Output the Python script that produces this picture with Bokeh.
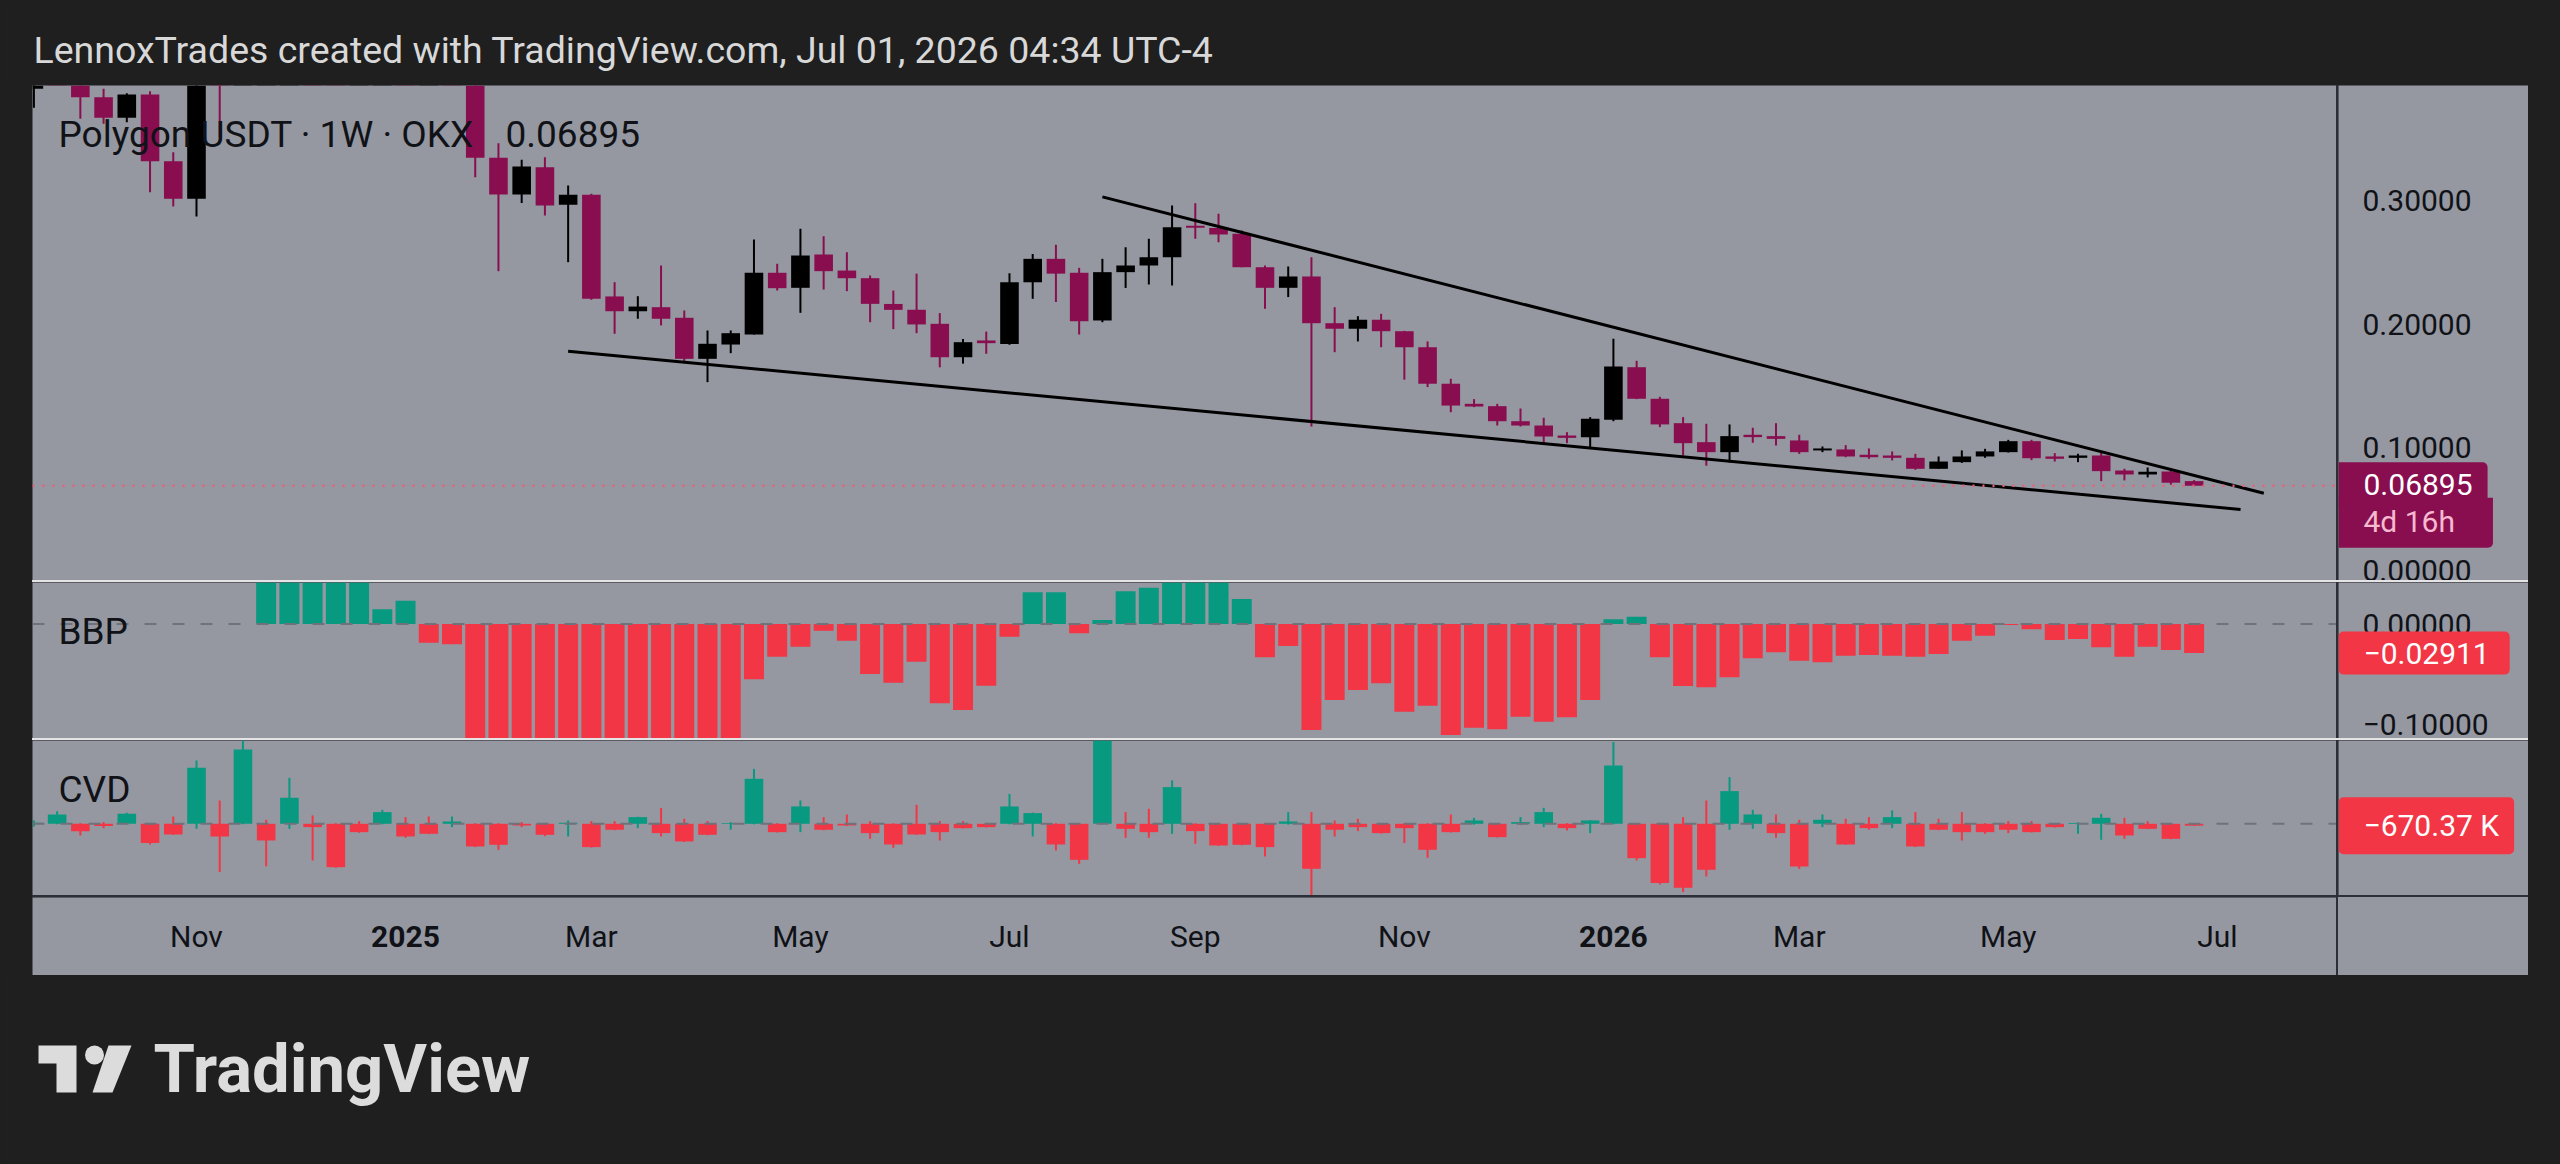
from bokeh.plotting import figure
from bokeh.layouts import column, row
from bokeh.models import (ColumnDataSource, Range1d, Label, Span, Spacer,
                          GlobalInlineStyleSheet)
from bokeh.core.properties import value
from bokeh.embed import file_html
from bokeh.resources import INLINE

# ---------------------------------------------------------------- data
# weekly bars, index 0 = week of 6 Jan 2025
weeks = list(range(-16, 78))

open_ = [
    0.391, 0.420, 0.416, 0.3841, 0.3674, 0.3863, 0.3322, 0.3017, 0.428, 0.410,      # -16..-7
    0.455, 0.600, 0.620, 0.560, 0.470, 0.480, 0.520, 0.450, 0.460, 0.430,          # -6..3
    0.335, 0.3052, 0.3273, 0.2968, 0.3049, 0.2225, 0.2105, 0.2138, 0.2052, 0.1719,  # 4..13
    0.1835, 0.1916, 0.2417, 0.2295, 0.2565, 0.2435, 0.2373, 0.2164, 0.2117, 0.2003, # 14..23
    0.1732, 0.1868, 0.1840, 0.2340, 0.2530, 0.2417, 0.2030, 0.2422, 0.2476, 0.2543, # 24..33
    0.2798, 0.2780, 0.2733, 0.2462, 0.2295, 0.2387, 0.2008, 0.1963, 0.2036, 0.1943, # 34..43
    0.1813, 0.1517, 0.1354, 0.1335, 0.1213, 0.1178, 0.1097, 0.1083, 0.1225, 0.1651, # 44..53
    0.1395, 0.1197, 0.1043, 0.0962, 0.1103, 0.1092, 0.1057, 0.0976, 0.0984, 0.0941, # 54..63
    0.0935, 0.0916, 0.0827, 0.0881, 0.0927, 0.0962, 0.1051, 0.0927, 0.0916, 0.0935, # 64..73
    0.0813, 0.0781, 0.0805, 0.0727,                                                 # 74..77
]
high = [
    0.432, 0.455, 0.425, 0.391, 0.3874, 0.389, 0.3395, 0.445, 0.475, 0.470,
    0.620, 0.730, 0.650, 0.600, 0.520, 0.560, 0.550, 0.500, 0.490, 0.440,
    0.3468, 0.3333, 0.3354, 0.3125, 0.3057, 0.2341, 0.2227, 0.2476, 0.2111, 0.1949,
    0.1949, 0.2687, 0.2490, 0.2774, 0.2714, 0.2584, 0.2395, 0.2273, 0.2410, 0.2090,
    0.1880, 0.1940, 0.2413, 0.2570, 0.2644, 0.2457, 0.2530, 0.2625, 0.2693, 0.2963,
    0.2980, 0.2895, 0.2760, 0.2476, 0.2468, 0.2543, 0.2138, 0.2065, 0.2084, 0.1946,
    0.1860, 0.1557, 0.1392, 0.1354, 0.1316, 0.1241, 0.1124, 0.1246, 0.1882, 0.1703,
    0.1411, 0.1246, 0.1192, 0.1187, 0.1160, 0.1197, 0.1103, 0.1008, 0.1019, 0.0992,
    0.0968, 0.0948, 0.0927, 0.0976, 0.0989, 0.1062, 0.1062, 0.0954, 0.0949, 0.0968,
    0.0827, 0.0838, 0.0827, 0.0735,
]
low = [
    0.3755, 0.400, 0.3666, 0.3625, 0.3638, 0.3071, 0.2955, 0.2873, 0.3517, 0.398,
    0.440, 0.560, 0.510, 0.430, 0.440, 0.460, 0.430, 0.420, 0.410, 0.3192,
    0.2430, 0.2983, 0.2882, 0.2503, 0.2198, 0.1922, 0.2044, 0.1990, 0.1692, 0.1530,
    0.1765, 0.1916, 0.2273, 0.2092, 0.2281, 0.2268, 0.2016, 0.1960, 0.1927, 0.1650,
    0.1680, 0.1760, 0.1833, 0.2206, 0.2180, 0.1916, 0.2016, 0.2294, 0.2322, 0.2314,
    0.2693, 0.2665, 0.2462, 0.2125, 0.2220, 0.1170, 0.1773, 0.1860, 0.1813, 0.1550,
    0.1490, 0.1286, 0.1327, 0.1178, 0.1170, 0.1032, 0.1035, 0.1002, 0.1213, 0.1392,
    0.1165, 0.0935, 0.0852, 0.0880, 0.1038, 0.1016, 0.0948, 0.0962, 0.0921, 0.0908,
    0.0895, 0.0819, 0.0827, 0.0875, 0.0916, 0.0959, 0.0897, 0.0886, 0.0881, 0.0727,
    0.0733, 0.0757, 0.0698, 0.0686,
]
close = [
    0.420, 0.416, 0.3841, 0.3674, 0.3863, 0.3322, 0.3017, 0.428, 0.410, 0.455,
    0.600, 0.620, 0.560, 0.470, 0.480, 0.520, 0.450, 0.460, 0.430, 0.335,
    0.3052, 0.3279, 0.2963, 0.3049, 0.2206, 0.2105, 0.2143, 0.2044, 0.1719, 0.1841,
    0.1927, 0.2417, 0.2292, 0.2557, 0.2430, 0.2373, 0.2165, 0.2116, 0.1998, 0.1732,
    0.1854, 0.1846, 0.2340, 0.2530, 0.2410, 0.2024, 0.2422, 0.2476, 0.2543, 0.2787,
    0.2782, 0.2727, 0.2462, 0.2295, 0.2387, 0.2008, 0.1963, 0.2036, 0.1943, 0.1813,
    0.1517, 0.1340, 0.1332, 0.1213, 0.1178, 0.1089, 0.1078, 0.1233, 0.1657, 0.1395,
    0.1187, 0.1035, 0.0962, 0.1092, 0.1084, 0.1070, 0.0962, 0.0992, 0.0927, 0.0921,
    0.0916, 0.0827, 0.0886, 0.0927, 0.0968, 0.1051, 0.0913, 0.0908, 0.0935, 0.0808,
    0.0781, 0.0803, 0.0714, 0.06895,
]

NA = float("nan")
# Bull Bear Power
bbp = [
    NA, NA, NA, NA, NA, NA, NA, NA, NA, NA,
    0.055, 0.085, 0.11, 0.07, 0.048, 0.0147, 0.0233, -0.0187, -0.0203, -0.17,
    -0.21, -0.16, -0.15, -0.19, -0.23, -0.18, -0.16, -0.17, -0.20, -0.17,
    -0.13, -0.0553, -0.0327, -0.0227, -0.0067, -0.0167, -0.050, -0.0587, -0.0377, -0.0793,
    -0.086, -0.0617, -0.0127, 0.0317, 0.0317, -0.0093, 0.004, 0.0328, 0.0362, 0.048,
    0.055, 0.050, 0.025, -0.0333, -0.022, -0.106, -0.076, -0.066, -0.0593, -0.0877,
    -0.0817, -0.111, -0.1037, -0.1053, -0.0927, -0.0977, -0.0933, -0.076, 0.0047, 0.0073,
    -0.0333, -0.062, -0.0633, -0.0533, -0.0343, -0.0283, -0.0367, -0.0383, -0.0317, -0.031,
    -0.0317, -0.0327, -0.030, -0.0167, -0.0117, -0.001, -0.0053, -0.016, -0.015, -0.0233,
    -0.0327, -0.0227, -0.026, -0.02911,
]

# cumulative volume delta per week (millions), each bar opens at zero
cvd_close = [
    0.4, 3.33, -2.62, -0.83, 3.57, -6.9, -3.81, 20.0, -4.52, 26.5,
    -5.95, 9.29, -1.19, -15.5, -2.98, 4.17, -4.52, -3.57, 0.83, -8.1,
    -7.5, -0.6, -3.93, 0.36, -8.33, -2.14, 2.38, -3.33, -6.3, -3.93,
    0.24, 16.07, -2.98, 6.19, -2.14, -0.6, -3.33, -7.38, -3.81, -2.98,
    -1.55, -1.19, 6.19, 3.81, -7.38, -12.86, 31.5, -1.79, -2.98, 13.1,
    -2.62, -7.74, -7.5, -8.33, 0.83, -16.07, -2.14, -1.19, -3.33, -1.55,
    -9.29, -2.98, 1.19, -4.76, 0.6, 4.17, -1.55, 1.19, 20.83, -12.26,
    -21.19, -22.86, -16.43, 11.67, 3.33, -3.33, -15.24, 1.43, -7.38, -1.55,
    2.38, -8.1, -2.14, -2.98, -2.98, -2.14, -2.98, -1.19, 0.3, 2.14,
    -4.17, -1.79, -5.36, -0.67037,
]
cvd_high = [
    1.2, 4.52, 0.2, 0.6, 3.93, 0.2, 2.62, 22.6, 8.33, 31.0,
    1.43, 16.4, 2.98, 0.2, 0.95, 5.0, 2.38, 2.62, 2.62, 0.2,
    0.2, 0.6, 0.36, 1.19, 0.95, 0.95, 2.5, 5.6, 1.79, 0.95,
    0.6, 19.6, 0.2, 8.33, 2.38, 3.33, 0.95, 0.2, 6.79, 0.95,
    0.95, 0.3, 10.7, 4.0, 0.2, 0.2, 33.0, 4.17, 5.36, 15.5,
    0.2, 0.2, 0.2, 0.2, 4.17, 4.17, 1.19, 1.79, 0.2, 0.3,
    0.2, 3.33, 2.14, 0.2, 2.38, 5.71, 0.2, 1.3, 29.17, 0.2,
    0.2, 2.38, 8.33, 16.67, 5.0, 3.33, 1.43, 3.33, 1.79, 2.38,
    4.76, 4.17, 1.79, 4.17, 0.2, 0.95, 0.95, 0.24, 0.5, 3.57,
    2.14, 0.95, 0.2, 0.1,
]
cvd_low = [
    -1.0, -0.2, -4.17, -1.55, -0.2, -7.38, -3.9, -1.79, -17.26, -0.2,
    -15.2, -1.79, -13.1, -15.7, -3.2, -0.2, -5.0, -3.7, -1.19, -8.3,
    -9.29, -1.19, -4.4, -4.52, -8.5, -2.3, -1.55, -4.52, -6.5, -4.1,
    -2.14, -0.2, -3.1, -2.98, -2.3, -0.8, -5.36, -8.57, -4.0, -5.95,
    -1.7, -1.3, -0.2, -4.52, -9.52, -14.3, -0.2, -5.0, -5.0, -3.57,
    -7.14, -7.9, -7.7, -11.67, -0.3, -26.5, -4.52, -2.62, -3.5, -6.9,
    -12.14, -3.1, -0.3, -4.9, -0.3, -1.19, -2.38, -3.33, -0.2, -13.1,
    -21.67, -24.4, -18.8, -2.14, -1.79, -5.0, -16.07, -1.19, -7.5, -2.14,
    -1.55, -8.3, -2.3, -5.95, -3.57, -3.33, -3.1, -1.3, -3.57, -5.71,
    -5.36, -1.9, -5.5, -0.75,
]

# falling-wedge trend lines (bar index, price)
upper_x, upper_y = [30, 80], [0.3033, 0.0629]
lower_x, lower_y = [7, 79], [0.1781, 0.0497]

# time axis
month_ticks = [-9, 0, 8, 17, 26, 34, 43, 52, 60, 69, 78]
month_labels = ["Nov", "2025", "Mar", "May", "Jul", "Sep", "Nov", "2026", "Mar", "May", "Jul"]

# price-scale ticks
price_ticks = [0.0, 0.1, 0.2, 0.3]
bbp_ticks = [0.0, -0.1]

# ---------------------------------------------------------------- style
DARK = "#1f1f1f"
PANE = "#9598a1"
SEP_DARK = "#2c2f38"
SEP_LIGHT = "#e4e4e6"
INK = "#101217"
UP = "#000000"
DOWN = "#880e4f"
GREEN = "#089981"
RED = "#f23645"
FONT = "Roboto"
PLOT_W, SCALE_W = 2304, 190


def minus(v, fmt):
    s = fmt.format(abs(v))
    return ("\u2212" + s) if v < 0 else s


def block(w, h, color):
    return Spacer(width=w, height=h, styles={"background-color": color})


def plain(width, height, x_range, y_range, fill=PANE):
    p = figure(width=width, height=height, x_range=x_range, y_range=y_range,
               x_axis_location=None, y_axis_location=None,
               toolbar_location=None, output_backend="svg",
               min_border_left=0, min_border_right=0,
               min_border_top=0, min_border_bottom=0,
               background_fill_color=fill, border_fill_color=fill)
    p.grid.visible = False
    p.outline_line_color = None
    return p


x_range = Range1d(-16.06, 83.13)


def pane(height, y_range, ticks=(), labels=()):
    """chart pane plus its price scale, sharing one y range"""
    p = plain(PLOT_W, height, x_range, y_range)
    s = plain(SCALE_W, height, Range1d(0, SCALE_W), y_range)
    if ticks:
        s.text(x=[24] * len(ticks), y=list(ticks), text=list(labels),
               text_font=value(FONT), text_font_size="30px", text_color=INK,
               text_align="left", text_baseline="middle")
    return p, s


def value_box(s, y, text, fill, pad, radius, color="white", y_offset=0):
    # box starts at the scale's left edge, the padding puts the text in place
    s.add_layout(Label(x=0, y=y, y_offset=y_offset, text=text,
                       text_font=FONT, text_font_size="30px", text_color=color,
                       text_align="left", text_baseline="middle",
                       background_fill_color=fill, padding=pad, border_radius=radius))


def legend(p, y, text, x=26):
    p.add_layout(Label(x=x, x_units="screen", y=y, text=text,
                       text_font=FONT, text_font_size="37px", text_color=INK,
                       text_baseline="middle"))


# ---------------------------------------------------------------- price pane
main, main_scale = pane(495, Range1d(-0.0079, 0.3936),
                        price_ticks, [f"{t:.5f}" for t in price_ticks])

candle_color = [UP if c >= o else DOWN for o, c in zip(open_, close)]
src = ColumnDataSource(dict(
    x=weeks, high=high, low=low,
    top=[max(o, c) for o, c in zip(open_, close)],
    bottom=[min(o, c) for o, c in zip(open_, close)],
    color=candle_color,
))
main.segment(x0="x", y0="low", x1="x", y1="high", color="color", line_width=2, source=src)
main.vbar(x="x", width=0.8, top="top", bottom="bottom", fill_color="color",
          line_color=None, source=src)
main.line(upper_x, upper_y, line_color="black", line_width=3)
main.line(lower_x, lower_y, line_color="black", line_width=3)
main.add_layout(Span(location=close[-1], dimension="width", line_color="#ec5f7a",
                     line_dash="2 8", line_width=2.5))

legend(main, 0.3539, "Polygon USDT \u00b7 1W \u00b7 OKX")
legend(main, 0.3539, f"{close[-1]:.5f}", x=473)

value_box(main_scale, close[-1], f"{close[-1]:.5f}", DOWN,
          dict(left=25, right=15, top=12, bottom=14),
          dict(top_left=0, top_right=5, bottom_right=0, bottom_left=0))
value_box(main_scale, close[-1], "4d 16h", DOWN,
          dict(left=25, right=38, top=6, bottom=9),
          dict(top_left=0, top_right=0, bottom_right=5, bottom_left=0),
          color="#f6b9cf", y_offset=-37)

# ---------------------------------------------------------------- BBP pane
bbp_fig, bbp_scale = pane(156, Range1d(-0.1145, 0.0415),
                          bbp_ticks, [minus(t, "{:.5f}") for t in bbp_ticks])
bbp_fig.vbar(x=weeks, width=0.86, top=bbp, bottom=0,
             fill_color=[GREEN if (v == v and v >= 0) else RED for v in bbp], line_color=None)
bbp_fig.add_layout(Span(location=0, dimension="width", line_color="#6f727b",
                        line_dash="12 16", line_width=2))
legend(bbp_fig, -0.0073, "BBP")
value_box(bbp_scale, bbp[-1], minus(bbp[-1], "{:.5f}"), RED,
          dict(left=25, right=20, top=11, bottom=11), 5)

# ---------------------------------------------------------------- CVD pane
cvd_fig, cvd_scale = pane(155, Range1d(-25.61, 29.75))
cvd_color = [GREEN if v >= 0 else RED for v in cvd_close]
csrc = ColumnDataSource(dict(
    x=weeks, high=cvd_high, low=cvd_low,
    top=[max(0.0, v) for v in cvd_close],
    bottom=[min(0.0, v) for v in cvd_close],
    color=cvd_color,
))
cvd_fig.segment(x0="x", y0="low", x1="x", y1="high", color="color", line_width=2, source=csrc)
cvd_fig.vbar(x="x", width=0.8, top="top", bottom="bottom", fill_color="color",
             line_color=None, source=csrc)
cvd_fig.add_layout(Span(location=0, dimension="width", line_color="#6f727b",
                        line_dash="12 16", line_width=2))
legend(cvd_fig, 12.25, "CVD")
value_box(cvd_scale, cvd_close[-1], minus(cvd_close[-1] * 1000, "{:.2f}") + " K", RED,
          dict(left=25, right=15, top=11, bottom=11), 5)

# ---------------------------------------------------------------- time axis
time_fig = plain(PLOT_W, 78, x_range, Range1d(0, 1))
time_fig.text(x=month_ticks, y=[0.5] * len(month_ticks), text=month_labels,
              text_font=value(FONT), text_font_size="30px", text_color=INK,
              text_font_style=["bold" if m.isdigit() else "normal" for m in month_labels],
              text_align="center", text_baseline="middle")

# ---------------------------------------------------------------- header / footer
top = plain(2560, 85, Range1d(0, 2560), Range1d(85, 0), fill=DARK)
top.add_layout(Label(x=33, y=49, text="LennoxTrades created with TradingView.com, Jul 01, 2026 04:34 UTC-4",
                     text_font=FONT, text_font_size="37.5px", text_color="#d8d8d8",
                     text_baseline="middle"))

foot = plain(2560, 189, Range1d(0, 2560), Range1d(1164, 975), fill=DARK)
LOGO = "#dcdcdc"
foot.patch([38, 76, 76, 56, 56, 38], [1045, 1045, 1092, 1092, 1063, 1063],
           fill_color=LOGO, line_color=None)
foot.circle(x=[94], y=[1054.5], radius=9.5, fill_color=LOGO, line_color=None)
foot.patch([108, 131, 112, 92], [1045, 1045, 1092, 1092], fill_color=LOGO, line_color=None)
foot.add_layout(Label(x=153, y=1068, text="TradingView", text_font=FONT,
                      text_font_size="67px", text_font_style="bold", text_color=LOGO,
                      text_baseline="middle"))

# ---------------------------------------------------------------- layout
def pane_row(p, s, h):
    return row(p, block(2, h, SEP_DARK), s)


middle = column(
    pane_row(main, main_scale, 495),
    block(2496, 2, SEP_LIGHT),
    pane_row(bbp_fig, bbp_scale, 156),
    block(2496, 2, SEP_LIGHT),
    pane_row(cvd_fig, cvd_scale, 155),
    block(2496, 2, SEP_DARK),
    row(time_fig, block(2, 78, SEP_DARK), block(SCALE_W, 78, PANE)),
)
root = column(
    top,
    row(block(32, 890, DARK), middle, block(32, 890, DARK)),
    foot,
    styles={"background-color": DARK},
    stylesheets=[GlobalInlineStyleSheet(css="html, body { margin: 0; padding: 0; background: #1f1f1f; }")],
)

open("out.html", "w").write(file_html(root, INLINE))
